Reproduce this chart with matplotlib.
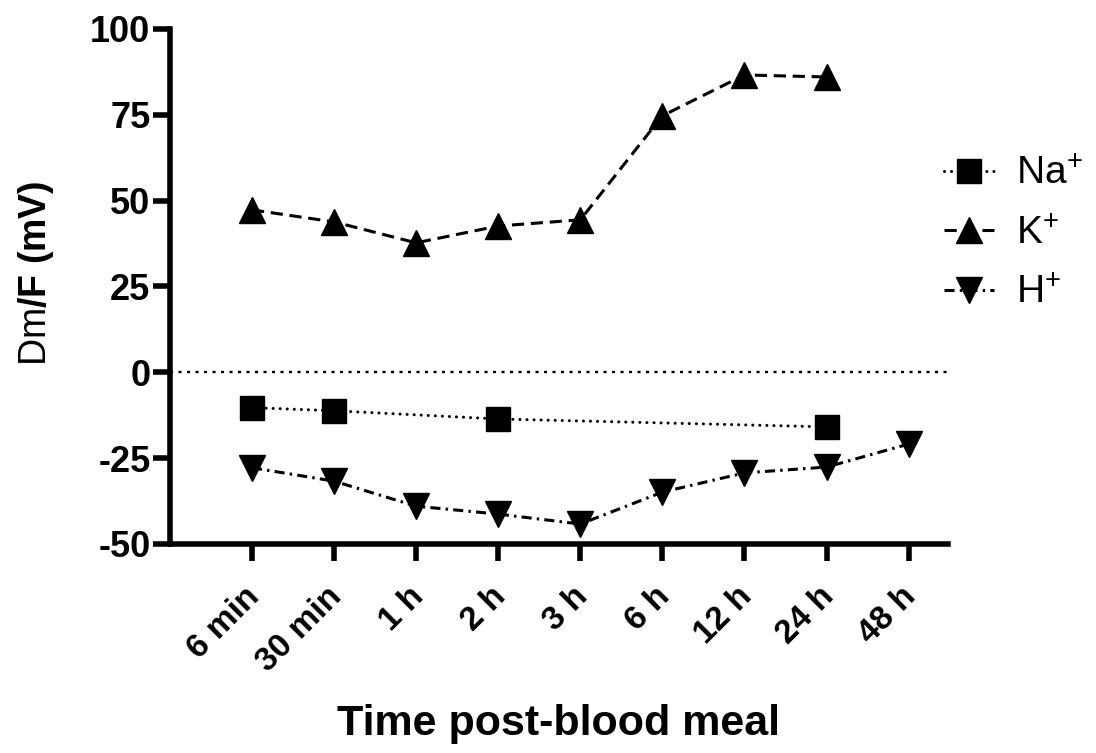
import matplotlib
matplotlib.use("Agg")
import matplotlib.pyplot as plt
import matplotlib.transforms as mtransforms
import numpy as np

plt.rcParams['font.family'] = ['Liberation Sans', 'DejaVu Sans']
plt.rcParams['mathtext.fontset'] = 'custom'
plt.rcParams['mathtext.rm'] = 'Liberation Sans'
plt.rcParams['mathtext.bf'] = 'Liberation Sans:bold'
plt.rcParams['mathtext.it'] = 'Liberation Sans:italic'

categories = ["6 min", "30 min", "1 h", "2 h", "3 h", "6 h", "12 h", "24 h", "48 h"]
na_idx = [0, 1, 3, 7]
na_vals = [-10.3, -11.2, -13.6, -15.9]
k_idx = [0, 1, 2, 3, 4, 5, 6, 7]
k_vals = [47.3, 43.8, 37.7, 42.6, 44.4, 74.7, 86.6, 86.0]
h_idx = [0, 1, 2, 3, 4, 5, 6, 7, 8]
h_vals = [-27.8, -31.7, -39.0, -41.3, -44.2, -34.9, -29.3, -27.6, -20.9]
yticks = [-50, -25, 0, 25, 50, 75, 100]

fig = plt.figure(figsize=(10.96, 7.53), dpi=100)
ax = fig.add_axes([0.155, 0.2776, 0.71, 0.684])

ax.axhline(0, color='black', linestyle=(0, (1.3, 2.3)), linewidth=1.7, zorder=1)

lw = 2.2
ms = 18.5
ax.plot(na_idx, na_vals, linestyle=(0, (0.01, 2.3)), dash_capstyle='round',
        color='black', linewidth=lw,
        marker='s', markersize=17.5, label='Na$^{+}$', clip_on=False)
ax.plot(k_idx, k_vals, linestyle=(0, (4, 2.2)), color='black', linewidth=lw,
        marker='^', markersize=ms, label='K$^{+}$', clip_on=False)
ax.plot(h_idx, h_vals, linestyle=(0, (3.3, 1.7, 0.8, 1.7)), color='black', linewidth=lw,
        marker='v', markersize=ms, label='H$^{+}$', clip_on=False)

ax.set_xlim(-1, 8.48)
ax.set_ylim(-50, 100)
ax.set_yticks(yticks)
ax.set_yticklabels([str(v) for v in yticks], fontsize=26, fontweight='bold')
ax.set_xticks(range(len(categories)))
ax.set_xticklabels(categories, fontsize=24, fontweight='bold', rotation=45,
                   ha='right', va='top', rotation_mode='anchor')

for s in ['top', 'right']:
    ax.spines[s].set_visible(False)
for s in ['left', 'bottom']:
    ax.spines[s].set_linewidth(4.0)
    ax.spines[s].set_capstyle('projecting')
ax.tick_params(axis='y', width=4.0, length=12, pad=2)
ax.tick_params(axis='x', width=4.0, length=12, pad=9)

offset = mtransforms.ScaledTranslation(-8 / 100, -8 / 100, fig.dpi_scale_trans)
for tick in ax.xaxis.get_major_ticks():
    tick.label1.set_transform(tick.label1.get_transform() + offset)

ax.set_xlabel('Time post-blood meal', fontsize=31, fontweight='bold')
ax.xaxis.set_label_coords(0.5, -0.31)
ax.set_ylabel(r'$\mathrm{Dm}\mathbf{/F\ (mV)}$', fontsize=27)
ax.yaxis.set_label_coords(-0.146, 0.525)

leg = fig.legend(loc='upper left', bbox_to_anchor=(0.861, 0.792), frameon=False,
                 fontsize=28, handlelength=1.3, handletextpad=0.55,
                 labelspacing=0.6, borderaxespad=0, borderpad=0)

fig.savefig('out.png', dpi=100)
